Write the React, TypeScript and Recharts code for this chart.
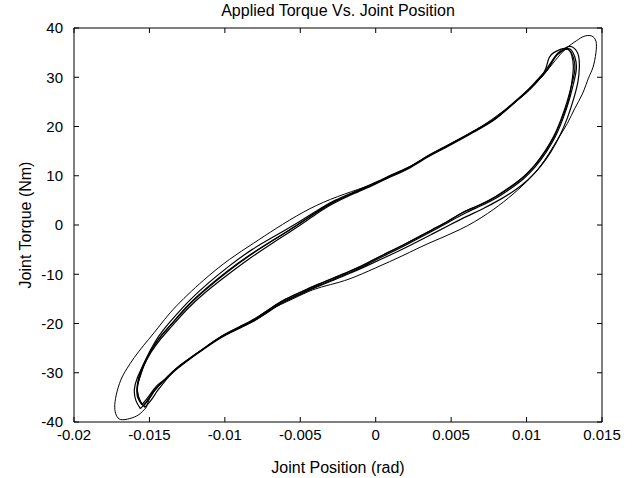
import { LineChart, Line, XAxis, YAxis } from 'recharts'

type Pt = { x: number; y: number }
const pts = (rows: number[][]): Pt[] => rows.map(([x, y]) => ({ x, y }))

const xTicks = [-0.02, -0.015, -0.01, -0.005, 0, 0.005, 0.01, 0.015]
const yTicks = [-40, -30, -20, -10, 0, 10, 20, 30, 40]

// first, wider loop
const outerCycle = pts([
  [-0.0152, -37.0], [-0.0157, -38.5], [-0.0163, -39.3], [-0.0169, -39.5], [-0.0172, -38.6],
  [-0.0173, -37.0], [-0.0172, -34.5], [-0.0169, -31.5], [-0.0165, -29.2], [-0.016, -26.9],
  [-0.0154, -24.5], [-0.0147, -21.9], [-0.014, -19.2], [-0.0132, -16.4], [-0.0122, -13.4],
  [-0.0111, -10.4], [-0.0097, -7.0], [-0.0081, -3.7], [-0.0066, -0.7], [-0.0048, 2.6],
  [-0.003, 5.2], [-0.0012, 7.2], [0.0002, 8.8], [0.0023, 11.9], [0.0046, 15.9],
  [0.0068, 19.6], [0.009, 24.4], [0.0102, 27.4], [0.0111, 30.4], [0.0119, 33.4],
  [0.0126, 35.8], [0.0133, 37.4], [0.0138, 38.3], [0.0143, 38.4], [0.0146, 37.3],
  [0.0146, 35.0], [0.0144, 32.0], [0.0141, 29.8], [0.0137, 26.6], [0.0132, 23.7],
  [0.0127, 20.6], [0.0121, 17.6], [0.0115, 14.6], [0.0108, 11.5], [0.0099, 8.5],
  [0.0088, 5.5], [0.0074, 2.3], [0.0056, -0.9], [0.0036, -3.6], [0.0018, -6.2],
  [0.0, -8.7], [-0.0017, -10.9], [-0.003, -12.1], [-0.0042, -13.2], [-0.0055, -15.0],
  [-0.0071, -17.4], [-0.0083, -19.7], [-0.0101, -22.5], [-0.0123, -27.1], [-0.0137, -30.6],
  [-0.0146, -33.5], [-0.015, -35.3], [-0.0152, -37.0],
])

const cycleA = pts([
  [-0.0154, -36.8], [-0.015, -35.2], [-0.0146, -33.4], [-0.0142, -32.0], [-0.0137, -30.5],
  [-0.0131, -28.8], [-0.0123, -27.0], [-0.0112, -24.6], [-0.0101, -22.4], [-0.0091, -20.8],
  [-0.0081, -19.3], [-0.0071, -17.2], [-0.0061, -15.3], [-0.005, -13.7], [-0.0039, -12.2],
  [-0.0028, -10.8], [-0.0017, -9.4], [-0.0006, -7.8], [0.0005, -6.1], [0.002, -3.8],
  [0.0036, -1.2], [0.0047, 0.6], [0.0057, 2.4], [0.0068, 3.9], [0.0079, 5.6],
  [0.0088, 7.4], [0.0097, 9.5], [0.0105, 12.0], [0.0112, 14.9], [0.0118, 18.0],
  [0.0123, 21.6], [0.0127, 25.2], [0.013, 28.6], [0.0132, 31.6], [0.0131, 34.0],
  [0.0128, 35.6], [0.0124, 35.4], [0.012, 34.5], [0.0117, 33.2], [0.0113, 31.2],
  [0.0107, 29.2], [0.01, 27.0], [0.009, 24.3], [0.0079, 21.5], [0.0068, 19.5],
  [0.0057, 17.6], [0.0046, 15.8], [0.0035, 14.0], [0.0023, 11.8], [0.0011, 10.1],
  [0.0, 8.5], [-0.0014, 6.6], [-0.0028, 4.6], [-0.004, 2.4], [-0.0052, 0.0],
  [-0.0067, -2.9], [-0.0083, -6.0], [-0.0098, -9.3], [-0.0112, -12.8], [-0.0124, -16.2],
  [-0.0134, -19.6], [-0.0142, -22.4], [-0.0148, -25.0], [-0.0153, -28.0], [-0.0156, -30.6],
  [-0.0158, -33.0], [-0.0157, -35.2], [-0.0154, -36.8],
])

const cycleB = pts([
  [-0.0155, -36.5], [-0.0151, -35.0], [-0.0147, -33.3], [-0.0143, -32.1], [-0.0138, -30.9],
  [-0.0132, -29.3], [-0.0124, -27.4], [-0.0113, -24.9], [-0.0102, -22.7], [-0.0091, -21.0],
  [-0.0081, -19.5], [-0.007, -17.3], [-0.006, -15.4], [-0.0049, -13.8], [-0.0038, -12.3],
  [-0.0027, -10.9], [-0.0016, -9.5], [-0.0005, -7.9], [0.0006, -6.2], [0.0021, -3.9],
  [0.0037, -1.3], [0.0048, 0.5], [0.0058, 2.2], [0.0069, 3.8], [0.008, 5.5],
  [0.0089, 7.3], [0.0098, 9.4], [0.0106, 11.9], [0.0113, 14.8], [0.0119, 17.9],
  [0.0124, 21.5], [0.0128, 25.1], [0.0131, 28.6], [0.0133, 31.7], [0.0132, 34.1],
  [0.0129, 35.7], [0.0125, 35.6], [0.0121, 34.8], [0.0118, 33.6], [0.0114, 31.6],
  [0.0108, 29.5], [0.0101, 27.3], [0.0091, 24.6], [0.008, 21.8], [0.0069, 19.8],
  [0.0058, 17.9], [0.0047, 16.1], [0.0036, 14.3], [0.0024, 12.1], [0.0012, 10.4],
  [0.0001, 8.8], [-0.0013, 6.9], [-0.0027, 5.0], [-0.0039, 2.9], [-0.0051, 0.6],
  [-0.0066, -2.1], [-0.0082, -5.0], [-0.0097, -8.3], [-0.0111, -11.8], [-0.0123, -15.2],
  [-0.0133, -18.5], [-0.0141, -21.4], [-0.0147, -24.1], [-0.0152, -27.0], [-0.0156, -29.8],
  [-0.0158, -32.4], [-0.0158, -34.8], [-0.0155, -36.5],
])

const cycleC = pts([
  [-0.0153, -37.0], [-0.0149, -35.6], [-0.0145, -33.8], [-0.0141, -32.2], [-0.0136, -30.4],
  [-0.013, -28.6], [-0.0122, -26.8], [-0.0111, -24.4], [-0.01, -22.2], [-0.009, -20.6],
  [-0.008, -19.0], [-0.007, -17.0], [-0.006, -15.1], [-0.0049, -13.5], [-0.0038, -12.0],
  [-0.0027, -10.6], [-0.0016, -9.2], [-0.0005, -7.6], [0.0006, -5.9], [0.0021, -3.6],
  [0.0037, -1.0], [0.0048, 0.8], [0.0058, 2.6], [0.0069, 4.1], [0.008, 5.9],
  [0.0089, 7.7], [0.0098, 9.8], [0.0106, 12.3], [0.0113, 15.2], [0.0119, 18.4],
  [0.0124, 22.0], [0.0128, 25.6], [0.013, 29.0], [0.0131, 32.0], [0.013, 34.4],
  [0.0127, 35.8], [0.0122, 35.6], [0.0118, 35.0], [0.0115, 34.0], [0.0113, 32.0],
  [0.011, 30.2], [0.0105, 28.6], [0.0099, 26.8], [0.0089, 24.0], [0.0078, 21.2],
  [0.0067, 19.2], [0.0056, 17.3], [0.0045, 15.5], [0.0034, 13.7], [0.0022, 11.5],
  [0.001, 9.8], [-0.0001, 8.2], [-0.0015, 6.3], [-0.0029, 4.2], [-0.0041, 1.9],
  [-0.0053, -0.6], [-0.0068, -3.6], [-0.0084, -6.9], [-0.0099, -10.3], [-0.0113, -13.7],
  [-0.0125, -17.1], [-0.0135, -20.5], [-0.0143, -23.3], [-0.0149, -25.9], [-0.0154, -28.8],
  [-0.0157, -31.4], [-0.0158, -33.6], [-0.0156, -35.8], [-0.0153, -37.0],
])

const cycleD = pts([
  [-0.0156, -37.3], [-0.0152, -35.9], [-0.0148, -34.0], [-0.0143, -32.4], [-0.0138, -30.8],
  [-0.0132, -29.1], [-0.0124, -27.3], [-0.0113, -25.0], [-0.0102, -22.8], [-0.0092, -21.2],
  [-0.0082, -19.7], [-0.0071, -17.6], [-0.0061, -15.7], [-0.005, -14.1], [-0.0039, -12.6],
  [-0.0028, -11.2], [-0.0017, -9.8], [-0.0006, -8.3], [0.0006, -6.6], [0.0021, -4.4],
  [0.0037, -1.9], [0.0049, 0.0], [0.006, 1.7], [0.0071, 3.3], [0.0082, 5.1],
  [0.0092, 7.0], [0.0101, 9.2], [0.0109, 11.8], [0.0116, 14.8], [0.0122, 18.1],
  [0.0127, 21.7], [0.0131, 25.4], [0.0134, 29.0], [0.0135, 32.2], [0.0134, 34.8],
  [0.013, 36.2], [0.0126, 36.0], [0.0121, 35.0], [0.0117, 33.4], [0.0112, 31.2],
  [0.0106, 29.1], [0.0099, 26.9], [0.0089, 24.2], [0.0078, 21.4], [0.0067, 19.4],
  [0.0056, 17.5], [0.0045, 15.7], [0.0034, 13.9], [0.0022, 11.7], [0.001, 10.0],
  [-0.0001, 8.4], [-0.0015, 6.5], [-0.0029, 4.5], [-0.0041, 2.3], [-0.0053, -0.2],
  [-0.0068, -3.1], [-0.0084, -6.3], [-0.0099, -9.7], [-0.0113, -13.2], [-0.0125, -16.6],
  [-0.0135, -20.0], [-0.0143, -22.8], [-0.0149, -25.5], [-0.0154, -28.4], [-0.0158, -31.0],
  [-0.016, -33.4], [-0.0159, -35.6], [-0.0156, -37.3],
])

const cycles = [outerCycle, cycleA, cycleB, cycleC, cycleD]

const font = "'Liberation Sans', Arial, Helvetica, sans-serif"
const black = '#000'
const fmtX = (v: number) => String(Number(v.toFixed(3)))

export default function App() {
  return (
    <div style={{ position: 'fixed', left: 0, top: 0, width: 642, height: 478, background: '#fff', fontFamily: font }}>
      <div
        style={{
          position: 'absolute', left: 74, top: 2, width: 528, textAlign: 'center',
          fontSize: 16, lineHeight: '17px', color: black,
        }}
      >
        Applied Torque Vs. Joint Position
      </div>
      <LineChart width={642} height={478} margin={{ top: 0, right: 0, bottom: 0, left: 0 }}>
        <XAxis
          xAxisId="bottom"
          type="number"
          dataKey="x"
          domain={[-0.02, 0.015]}
          ticks={xTicks}
          interval={0}
          allowDataOverflow
          height={56}
          tickSize={-5}
          tickMargin={12}
          tickFormatter={fmtX}
          axisLine={{ stroke: black }}
          tickLine={{ stroke: black }}
          tick={{ fill: black, fontSize: 15, fontFamily: font }}
          label={{ value: 'Joint Position (rad)', position: 'insideBottom', offset: 5, fill: black, fontSize: 16, fontFamily: font }}
        />
        <XAxis
          xAxisId="top"
          orientation="top"
          type="number"
          dataKey="x"
          domain={[-0.02, 0.015]}
          ticks={xTicks}
          interval={0}
          allowDataOverflow
          height={28}
          tickSize={-5}
          tickFormatter={() => ''}
          axisLine={{ stroke: black }}
          tickLine={{ stroke: black }}
        />
        <YAxis
          yAxisId="left"
          type="number"
          domain={[-40, 40]}
          ticks={yTicks}
          interval={0}
          allowDataOverflow
          width={74}
          tickSize={-5}
          tickMargin={16}
          axisLine={{ stroke: black }}
          tickLine={{ stroke: black }}
          tick={{ fill: black, fontSize: 15, fontFamily: font }}
          label={{
            value: 'Joint Torque (Nm)', angle: -90, position: 'insideLeft', offset: 25,
            fill: black, fontSize: 16, fontFamily: font, style: { textAnchor: 'middle' },
          }}
        />
        <YAxis
          yAxisId="right"
          orientation="right"
          type="number"
          domain={[-40, 40]}
          ticks={yTicks}
          interval={0}
          allowDataOverflow
          width={40}
          tickSize={-5}
          tickFormatter={() => ''}
          axisLine={{ stroke: black }}
          tickLine={{ stroke: black }}
        />
        {cycles.map((c, i) => (
          <Line
            key={i}
            data={c}
            xAxisId="bottom"
            yAxisId="left"
            dataKey="y"
            type="natural"
            stroke={black}
            strokeWidth={i === 0 ? 1 : 1.2}
            dot={false}
            activeDot={false}
            isAnimationActive={false}
          />
        ))}
      </LineChart>
    </div>
  )
}
